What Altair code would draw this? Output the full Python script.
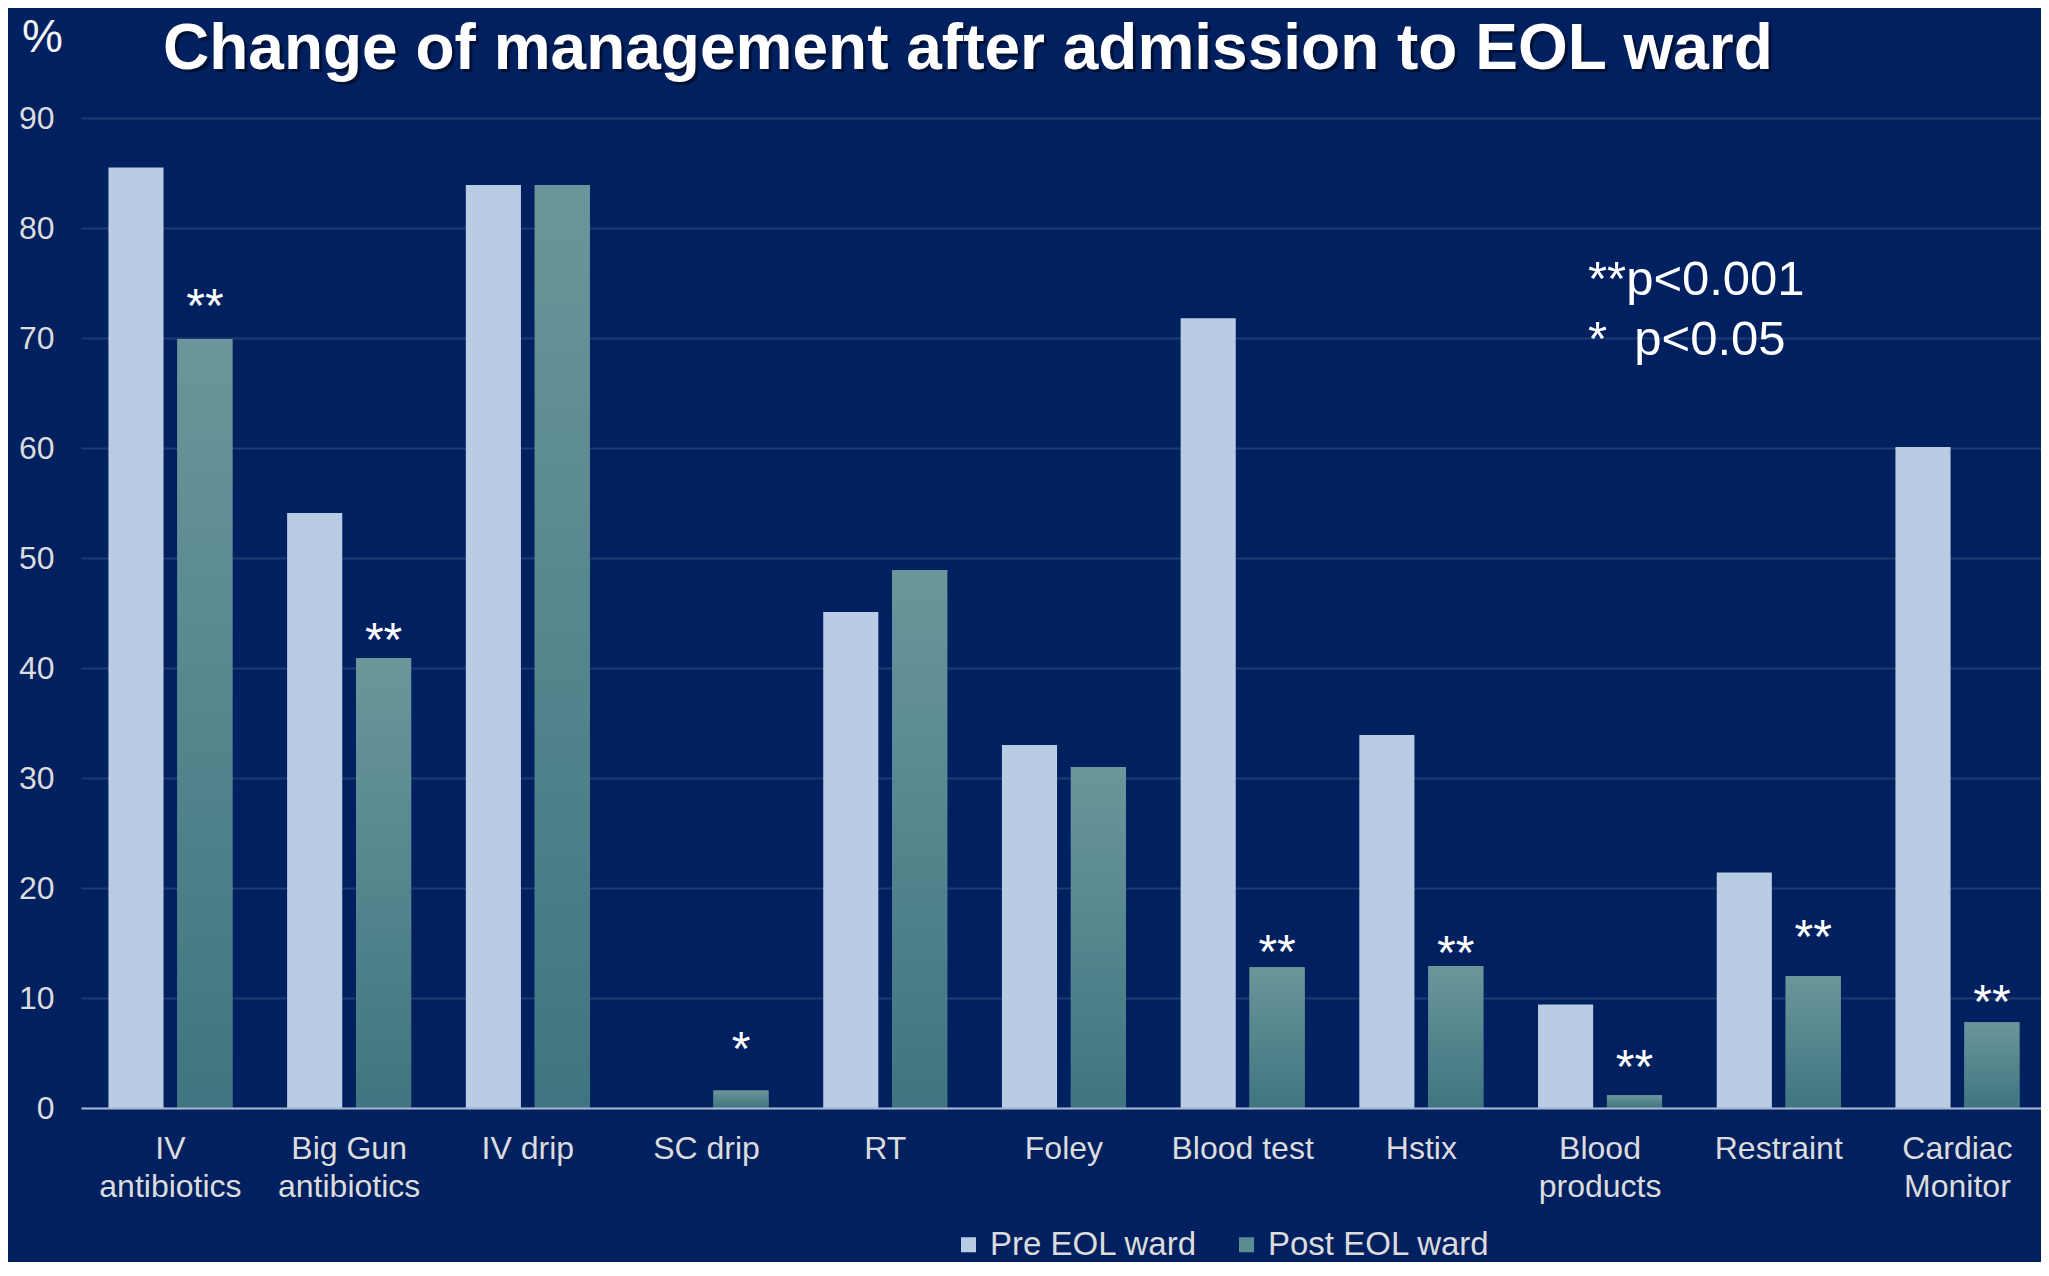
import altair as alt
import pandas as pd

# ---------------- data ----------------
categories = ["IV\nantibiotics", "Big Gun\nantibiotics", "IV drip", "SC drip", "RT", "Foley",
              "Blood test", "Hstix", "Blood\nproducts", "Restraint", "Cardiac\nMonitor"]
groups = ["Pre EOL ward", "Post EOL ward"]
pre_values = [85.5, 54.1, 83.9, 0.0, 45.1, 33.0, 71.8, 33.9, 9.4, 21.4, 60.1]
post_values = [69.9, 40.9, 83.9, 1.6, 48.9, 31.0, 12.8, 12.9, 1.15, 12.0, 7.8]

star_categories = ["IV\nantibiotics", "Big Gun\nantibiotics", "SC drip", "Blood test", "Hstix",
                   "Blood\nproducts", "Restraint", "Cardiac\nMonitor"]
star_marks = ["**", "**", "*", "**", "**", "**", "**", "**"]
star_levels = [73.5, 43.1, 5.9, 14.7, 14.6, 4.3, 16.1, 10.2]

y_ticks = list(range(0, 100, 10))
title_text = ["Change of management after admission to EOL ward"]
unit_text = ["%"]
note_line1 = ["**p<0.001"]
note_line2 = ["*\u00a0\u00a0p<0.05"]

# ---------------- styles ----------------
FONT = "Liberation Sans, Arial, Helvetica, sans-serif"
BG = "#002060"
PRE = "#b8cce4"
POST = "#5b8c92"
LABEL = "#dcdcdc"

df = pd.DataFrame({
    "category": categories * 2,
    "group": [groups[0]] * len(categories) + [groups[1]] * len(categories),
    "value": pre_values + post_values,
})
stars_df = pd.DataFrame({
    "category": star_categories,
    "group": [groups[1]] * len(star_categories),
    "mark": star_marks,
    "level": star_levels,
})

x_enc = alt.X(
    "category:N", sort=categories,
    scale=alt.Scale(domain=categories, paddingInner=0.306, paddingOuter=0.137, align=0.56),
    axis=alt.Axis(title=None, labelExpr="split(datum.label, '\\n')", labelAngle=0,
                  labelFontSize=32, labelLineHeight=38, labelColor=LABEL, labelFont=FONT,
                  labelPadding=25, ticks=False, tickSize=0, domainColor="#a9b6cf",
                  domainWidth=2, grid=False, zindex=1, labelLimit=400),
)
xo_enc = alt.XOffset("group:N", sort=groups,
                     scale=alt.Scale(domain=groups, paddingInner=0.2, paddingOuter=0))
y_enc = alt.Y(
    "value:Q",
    scale=alt.Scale(domain=[0, 90], nice=False, zero=True),
    axis=alt.Axis(title=None, values=y_ticks, labelFontSize=32, labelColor=LABEL, labelFont=FONT,
                  labelPadding=27, ticks=False, tickSize=0, domain=False, grid=True,
                  gridColor="#1e3c72", gridWidth=2, zindex=0),
)

bars = alt.Chart(df).mark_bar(strokeWidth=0).encode(
    x=x_enc, xOffset=xo_enc, y=y_enc,
    color=alt.Color("group:N", sort=groups,
                    scale=alt.Scale(domain=groups, range=[PRE, POST]),
                    legend=alt.Legend(title=None, orient="none", direction="horizontal",
                                      legendX=871, legendY=1110, symbolType="square",
                                      symbolSize=225, symbolStrokeWidth=0, labelFontSize=33,
                                      labelColor=LABEL, labelFont=FONT, labelOffset=5,
                                      labelLimit=500, columnPadding=32, padding=0)),
)

gradient = alt.Gradient(
    gradient="linear",
    stops=[alt.GradientStop(color="#6b969b", offset=0),
           alt.GradientStop(color="#3f7580", offset=1)],
    x1=0, x2=0, y1=0, y2=1,
)
post_bars = alt.Chart(df).transform_filter(
    alt.datum.group == groups[1]
).mark_bar(fill=gradient, strokeWidth=0).encode(x=x_enc, xOffset=xo_enc, y="value:Q")

stars = alt.Chart(stars_df).mark_text(
    font=FONT, fontSize=48, color="#ffffff", baseline="alphabetic", dy=22
).encode(x=x_enc, xOffset=xo_enc, y="level:Q", text="mark:N")

title_shadow = alt.Chart(pd.DataFrame({"t": title_text})).mark_text(
    font=FONT, fontSize=64, fontWeight="bold", color="#000000", opacity=0.45,
    align="left", baseline="alphabetic"
).encode(x=alt.value(85), y=alt.value(-46), text="t:N")

title = alt.Chart(pd.DataFrame({"t": title_text})).mark_text(
    font=FONT, fontSize=64, fontWeight="bold", color="#ffffff",
    align="left", baseline="alphabetic"
).encode(x=alt.value(82), y=alt.value(-49), text="t:N")

unit = alt.Chart(pd.DataFrame({"t": unit_text})).mark_text(
    font=FONT, fontSize=46, color="#f4f4f4", align="left", baseline="alphabetic"
).encode(x=alt.value(-59), y=alt.value(-66), text="t:N")

note1 = alt.Chart(pd.DataFrame({"t": note_line1})).mark_text(
    font=FONT, fontSize=49, color="#ffffff", align="left", baseline="alphabetic"
).encode(x=alt.value(1507), y=alt.value(177), text="t:N")

note2 = alt.Chart(pd.DataFrame({"t": note_line2})).mark_text(
    font=FONT, fontSize=49, color="#ffffff", align="left", baseline="alphabetic"
).encode(x=alt.value(1507), y=alt.value(237), text="t:N")

chart = alt.layer(bars, post_bars, stars, title_shadow, title, unit, note1, note2).properties(
    width=1960, height=990,
    autosize=alt.AutoSizeParams(type="none"),
    padding={"left": 73, "top": 110, "right": 0, "bottom": 154},
    background=BG,
).configure_view(strokeWidth=0)

chart.save("out.html", embed_options={"renderer": "svg", "actions": False})
